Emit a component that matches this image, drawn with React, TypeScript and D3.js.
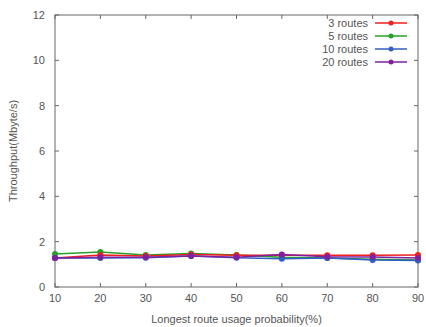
import React from "react";
import * as d3 from "d3";

const xValues = [10, 20, 30, 40, 50, 60, 70, 80, 90];
const routes3 = [1.28, 1.41, 1.37, 1.43, 1.4, 1.4, 1.4, 1.4, 1.41];
const routes5 = [1.46, 1.54, 1.41, 1.48, 1.41, 1.31, 1.28, 1.22, 1.19];
const routes10 = [1.28, 1.28, 1.29, 1.37, 1.29, 1.25, 1.28, 1.19, 1.17];
const routes20 = [1.28, 1.31, 1.31, 1.37, 1.31, 1.43, 1.34, 1.32, 1.28];
const seriesNames = ["3 routes", "5 routes", "10 routes", "20 routes"];
const xTicks = [10, 20, 30, 40, 50, 60, 70, 80, 90];
const yTicks = [0, 2, 4, 6, 8, 10, 12];

const colors = ["#ee2020", "#28a028", "#3060c0", "#8020a0"];

export default function App() {
  const W = 426, H = 327;
  const left = 55, right = 418, top = 15, bottom = 287;
  const x = d3.scaleLinear().domain([10, 90]).range([left, right]);
  const y = d3.scaleLinear().domain([0, 12]).range([bottom, top]);
  const all = [routes3, routes5, routes10, routes20];
  const line = d3.line<number>().x((_, i) => x(xValues[i])).y((d) => y(d));
  const font = "'Liberation Sans', Arial, sans-serif";
  const textColor = "#555";
  const drawOrder = [1, 0, 2, 3];
  return (
    <svg width={W} height={H} style={{ position: "absolute", left: 0, top: 0 }} fontFamily={font}>
      <rect x={0} y={0} width={W} height={H} fill="#fff" />
      <rect x={left} y={top} width={right - left} height={bottom - top} fill="none" stroke="#666" strokeWidth={1} />
      {xTicks.map((t) => (
        <g key={"x" + t}>
          <line x1={x(t)} x2={x(t)} y1={bottom} y2={bottom - 4} stroke="#666" />
          <line x1={x(t)} x2={x(t)} y1={top} y2={top + 4} stroke="#666" />
          <text x={x(t)} y={302} fontSize={11} fill={textColor} textAnchor="middle">{t}</text>
        </g>
      ))}
      {yTicks.map((t) => (
        <g key={"y" + t}>
          <line x1={left} x2={left + 4} y1={y(t)} y2={y(t)} stroke="#666" />
          <line x1={right} x2={right - 4} y1={y(t)} y2={y(t)} stroke="#666" />
          <text x={45} y={y(t) + 4} fontSize={11} fill={textColor} textAnchor="end">{t}</text>
        </g>
      ))}
      <text x={(left + right) / 2} y={323} fontSize={11} fill={textColor} textAnchor="middle">
        Longest route usage probability(%)
      </text>
      <text transform={`translate(17,${(top + bottom) / 2}) rotate(-90)`} fontSize={11} fill={textColor} textAnchor="middle">
        Throughput(Mbyte/s)
      </text>
      {drawOrder.map((si) => (
        <g key={"s" + si}>
          <path d={line(all[si]) || ""} fill="none" stroke={colors[si]} strokeWidth={1.5} />
          {all[si].map((v, i) => (
            <circle key={i} cx={x(xValues[i])} cy={y(v)} r={3} fill={colors[si]} />
          ))}
        </g>
      ))}
      {seriesNames.map((n, i) => {
        const ly = 23 + i * 13;
        return (
          <g key={"l" + i}>
            <text x={368} y={ly + 4} fontSize={11} fill={textColor} textAnchor="end">{n}</text>
            <line x1={375} x2={407} y1={ly} y2={ly} stroke={colors[i]} strokeWidth={1.5} />
            <circle cx={391} cy={ly} r={2.5} fill={colors[i]} />
          </g>
        );
      })}
    </svg>
  );
}
